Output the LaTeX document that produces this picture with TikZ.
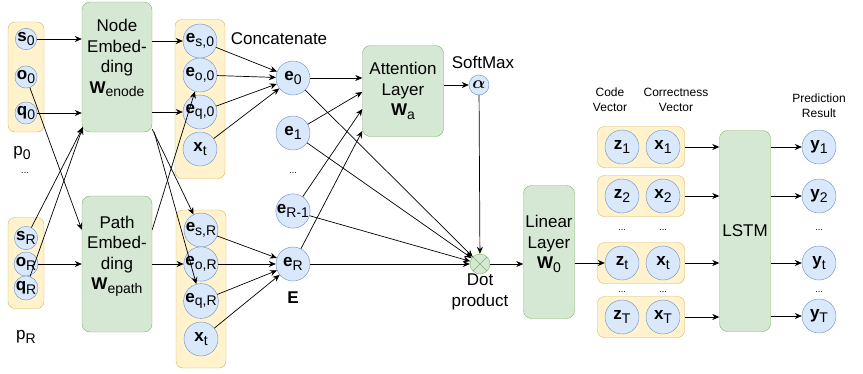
\documentclass[tikz,border=0pt]{standalone}
\usepackage{fontspec}
\setmainfont{Liberation Sans}
\usepackage{bm}
\usetikzlibrary{arrows.meta}
\definecolor{ylwfill}{HTML}{FFF2CC}
\definecolor{ylwline}{HTML}{D6B656}
\definecolor{bluefill}{HTML}{DAE8FC}
\definecolor{blueline}{HTML}{6C8EBF}
\definecolor{grnfill}{HTML}{D5E8D4}
\definecolor{grnline}{HTML}{82B366}
\newcommand{\sbs}[1]{\raisebox{-3.5pt}{\fontsize{14}{14}\selectfont #1}}
\newcommand{\vc}[2]{\textbf{#1}\sbs{#2}}

\begin{document}
\begin{tikzpicture}[x=1pt, y=-1pt, font=\fontsize{17}{20.5}\selectfont,
  vec/.style={circle, draw=blueline, fill=bluefill, inner sep=0pt, minimum size=34pt},
  vecsm/.style={vec, minimum size=21pt},
  grp/.style={draw=ylwline, fill=ylwfill, rounded corners=7pt, inner sep=0pt},
  layer/.style={draw=grnline, fill=grnfill, rounded corners=8pt, inner sep=0pt},
  arr/.style={-{Stealth[length=7pt,width=6pt]}, line width=0.7pt},
  dots/.style={font=\fontsize{9}{10}\selectfont, inner sep=0pt},
  small/.style={font=\fontsize{12}{15}\selectfont, align=center, inner sep=0pt}]
        \useasboundingbox (0,0) rectangle (863,373);
        % inputs
        \node[grp, minimum width=36pt, minimum height=110pt] (gp0) at (26,77) {};
        \node[vecsm] (s0) at (26,39) {\vc{s}{0}};
        \node[vecsm] (o0) at (26,77) {\vc{o}{0}};
        \node[vecsm] (q0) at (26,113) {\vc{q}{0}};
        \node (p0) at (22,153) {p\sbs{0}};
        \node[dots] (dp) at (25,173) {...};
        \node[grp, minimum width=36pt, minimum height=91pt] (gpR) at (26,263) {};
        \node[vecsm] (sR) at (26,238) {\vc{s}{R}};
        \node[vecsm] (oR) at (26,264) {\vc{o}{R}};
        \node[vecsm] (qR) at (26,288) {\vc{q}{R}};
        \node (pR) at (26,337) {p\sbs{R}};
        % embedding layers
        \node[layer, minimum width=70pt, minimum height=130pt] (nemb) at (117,67) {};
        \node[align=center] (nembtxt) at (117,58) {Node\\Embed-\\ding\\\vc{W}{enode}};
        \node[layer, minimum width=70pt, minimum height=136pt] (pemb) at (117,264) {};
        \node[align=center] (pembtxt) at (117,256) {Path\\Embed-\\ding\\\vc{W}{epath}};
        % embedded vectors
        \node[grp, minimum width=50pt, minimum height=159pt] (ge0) at (200,99) {};
        \node[vec] (es0) at (200,41) {\vc{e}{s,0}};
        \node[vec] (eo0) at (200,75) {\vc{e}{o,0}};
        \node[vec] (eq0) at (200,112) {\vc{e}{q,0}};
        \node[vec] (xt0) at (200,149) {\vc{x}{t}};
        \node[grp, minimum width=50pt, minimum height=158pt] (geR) at (201,289) {};
        \node[vec] (esR) at (201,230) {\vc{e}{s,R}};
        \node[vec] (eoR) at (201,264) {\vc{e}{o,R}};
        \node[vec] (eqR) at (201,301) {\vc{e}{q,R}};
        \node[vec] (xtR) at (201,339) {\vc{x}{t}};
        \node (concat) at (279,39) {Concatenate};
        % paths
        \node[vec] (e0) at (293,78) {\vc{e}{0}};
        \node[vec] (e1) at (293,133) {\vc{e}{1}};
        \node[dots] (de) at (293,173) {...};
        \node[vec] (eRm) at (293,211) {\vc{e}{R-1}};
        \node[vec] (eR) at (293,264) {\vc{e}{R}};
        \node (E) at (293,298) {\textbf{E}};
        % attention
        \node[layer, minimum width=81pt, minimum height=91pt, align=center] (attn) at (403,91) {Attention\\Layer\\\vc{W}{a}};
        \node (smax) at (483,62) {SoftMax};
        \node[vec, minimum size=20pt] (alpha) at (479,85) {$\bm{\alpha}$};
        \node[circle, draw=grnline, fill=grnfill, minimum size=20pt, inner sep=0pt,
          path picture={\draw[grnline] (path picture bounding box.north west) -- (path picture bounding box.south east)
          (path picture bounding box.south west) -- (path picture bounding box.north east);}] (dot) at (480,264) {};
        \node[align=center] (dottxt) at (480,292) {Dot\\product};
        \node[layer, minimum width=51pt, minimum height=133pt] (lin) at (549,252) {};
        \node[align=center] (lintxt) at (549,244) {Linear\\Layer\\\vc{W}{0}};
        % sequence
        \node[small] (codelbl) at (610,100) {Code\\Vector};
        \node[small] (corrlbl) at (676,100) {Correctness\\Vector};
        \foreach \n/\y in {1/147,2/196,t/263,T/317}{
          \node[grp, minimum width=87pt, minimum height=41pt] (g\n) at (641,\y) {};
          \node[vec] (z\n) at (622,\y) {\vc{z}{\n}};
          \node[vec] (x\n) at (663,\y) {\vc{x}{\n}};
        }
        \foreach \i/\y in {a/230,b/292}{
          \node[dots] (dz\i) at (622,\y) {...};
          \node[dots] (dx\i) at (663,\y) {...};
          \node[dots] (dy\i) at (819,\y) {...};
        }
        \node[layer, minimum width=51pt, minimum height=201pt] (lstm) at (745,231) {LSTM};
        \node[small] (predlbl) at (819,106) {Prediction\\Result};
        \foreach \n/\y in {1/147,2/196,t/263,T/316}
          \node[vec] (y\n) at (819,\y) {\vc{y}{\n}};
        % connections
        \draw[arr] (s0) -- (s0 -| nemb.west);
        \draw[arr] (q0) -- (q0 -| nemb.west);
        \draw[arr] (sR) -- ([xshift=1pt,yshift=5pt]nemb.south west);
        \draw[arr] (qR) -- ([xshift=1pt,yshift=5pt]nemb.south west);
        \draw[arr] (o0) -- ([yshift=-34pt]pemb.north west);
        \draw[arr] (oR) -- (oR -| pemb.west);
        \draw[arr] (nemb.east |- es0) -- (es0);
        \draw[arr] (nemb.east |- eq0) -- (eq0);
        \draw[arr] ([yshift=3pt]nemb.south east) -- (esR);
        \draw[arr] ([xshift=2pt]nemb.south east) -- (eqR);
        \draw[arr] ([yshift=-34pt]pemb.north east) -- (eo0);
        \draw[arr] (pemb.east |- eoR) -- (eoR);
        \foreach \s in {es0,eo0,eq0,xt0}
          \draw[arr] (\s) -- (e0);
        \foreach \s in {esR,eoR,eqR,xtR}
          \draw[arr] (\s) -- (eR);
        \draw[arr] (e0) -- (e0 -| attn.west);
        \draw[arr] (e1) -- ([yshift=-1pt]attn.west);
        \draw[arr] (eRm) -- ([yshift=-18pt]attn.west);
        \draw[arr] (eR) -- ([yshift=-40pt]attn.west);
        \draw[arr] (attn.east |- alpha) -- (alpha);
        \draw[arr] (alpha) -- (dot);
        \foreach \s in {e0,e1,eRm,eR}
          \draw[arr] (\s) -- (dot);
        \draw[arr] (dot) -- (dot -| lin.west);
        \draw[arr] (lin.east |- zt) -- (zt);
        \foreach \n in {1,2,t,T}{
          \draw[arr] (g\n.east) -- (g\n.east -| lstm.west);
          \draw[arr] (lstm.east |- y\n) -- (y\n);
        }
\end{tikzpicture}
\end{document}
